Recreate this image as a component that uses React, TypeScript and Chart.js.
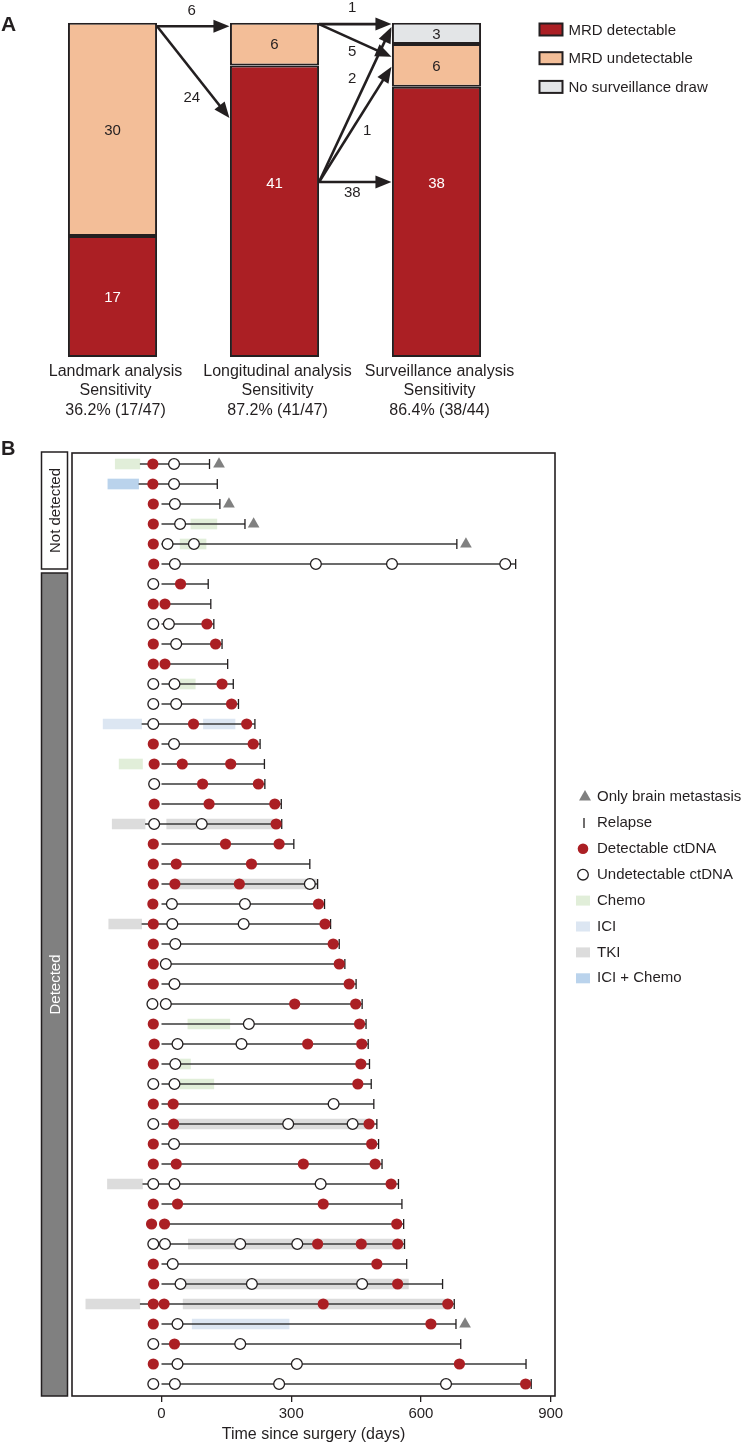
import React, { useEffect, useRef } from "react";
import { Chart, registerables } from "chart.js";

Chart.register(...registerables);

const FONT = '"Liberation Sans", Arial, Helvetica, sans-serif';
const INK = "#231F20";
const RED = "#AB1F24";
const PEACH = "#F3BE98";
const LIGHTGREY = "#E3E5E7";

// ---------------- Panel A data ----------------
const stages = ["Landmark analysis", "Longitudinal analysis", "Surveillance analysis"];
const sensitivityText = ["36.2% (17/47)", "87.2% (41/47)", "86.4% (38/44)"];
const mrdDetectable = [17, 41, 38];
const mrdUndetectable = [30, 6, 6];
const noSurveillanceDraw = [null, null, 3];
const flowCounts = [6, 24, 1, 5, 2, 1, 38];
const flowFromStage = [0, 0, 1, 1, 1, 1, 1];

// ---------------- Panel B data ----------------
const xTickValues = [0, 300, 600, 900];
const groups = [
  { label: "Not detected", first: 1, last: 6 },
  { label: "Detected", first: 7, last: 47 },
];
const relapseDays = [
  111, 129, 135, 193, 683, 819,
  108, 114, 121, 140, 153, 166, 178, 216, 228, 238, 239, 277, 278, 306,
  343, 361, 377, 391, 411, 424, 450, 464, 473, 478,
  481, 485, 491, 498, 502, 510, 548, 556, 560, 562,
  567, 650, 677, 681, 692, 843, 855,
];
const followStart = [
  -50, -53, 0, 0, 0, 0,
  0, 0, 0, 0, 0, 0, 0, -46, 0, 0, 0, 0, -38, 0,
  0, 0, 0, -46, 0, 0, 0, 0, 0, 0,
  0, 0, 0, 0, 0, 0, -44, 0, 0, 0,
  0, 0, -50, 0, 0, 0, 0,
];
const detectable: number[][] = [
  [-20], [-20], [-19], [-19], [-19], [-18],
  [44], [-19, 8], [105], [-19, 125], [-19, 8], [140], [162], [74, 197], [-19, 212], [-17, 48, 160], [95, 224], [-17, 110, 262], [265], [-19, 148, 272],
  [-19, 34, 208], [-19, 31, 180], [-20, 363], [-19, 378], [-19, 397], [-19, 411], [-19, 434], [308, 449], [-19, 458], [-17, 338, 463],
  [-19, 461], [454], [-19, 27], [28, 480], [-19, 486], [-19, 34, 328, 494], [531], [-19, 37, 374], [-23, 7, 544], [361, 462, 546],
  [-19, 498], [-18, 546], [-19, 6, 374, 662], [-19, 623], [30], [-19, 689], [842],
];
const undetectable: number[][] = [
  [29], [29], [31], [43], [14, 75], [31, 357, 533, 795],
  [-19], [], [-19, 17], [34], [], [-19, 30], [-19, 34], [-19], [29], [], [-17], [], [-17, 93], [],
  [], [343], [24, 193], [25, 190], [32], [10], [30], [-21, 10], [202], [37, 185],
  [32], [-19, 30], [398], [-19, 293, 442], [29], [], [-19, 30, 368], [], [], [-19, 8, 182, 314],
  [26], [44, 209, 464], [], [37], [-19, 182], [37, 313], [-19, 31, 272, 658],
];
const brainOnly: [number, number][] = [[1, 133], [3, 156], [4, 213], [5, 704], [44, 702]];
const chemo: [number, number, number][] = [[1, -107, -50], [4, 68, 128], [5, 43, 103], [12, 43, 78], [16, -98, -44], [29, 61, 158], [31, 43, 67], [32, 43, 121]];
const ici: [number, number, number][] = [[14, -135, -46], [14, 97, 170], [44, 71, 295]];
const tki: [number, number, number][] = [[19, -114, -38], [19, 12, 258], [22, 31, 359], [24, -122, -46], [34, 28, 482], [37, -125, -44], [40, 62, 559], [42, 43, 571], [43, -175, -50], [43, 50, 663]];
const iciChemo: [number, number, number][] = [[2, -124, -53]];

const therapyColors = { Chemo: "#E1EED9", ICI: "#DCE6F2", TKI: "#DCDCDC", "ICI + Chemo": "#BAD3EC" };

// ---------------- helpers ----------------
function drawArrow(ctx: CanvasRenderingContext2D, x0: number, y0: number, x1: number, y1: number) {
  const ang = Math.atan2(y1 - y0, x1 - x0);
  const hl = 16, hw = 6.5;
  const bx = x1 - hl * Math.cos(ang);
  const by = y1 - hl * Math.sin(ang);
  ctx.beginPath();
  ctx.moveTo(x0, y0);
  ctx.lineTo(bx + 2 * Math.cos(ang), by + 2 * Math.sin(ang));
  ctx.stroke();
  ctx.beginPath();
  ctx.moveTo(x1, y1);
  ctx.lineTo(bx + hw * Math.sin(ang), by - hw * Math.cos(ang));
  ctx.lineTo(bx - hw * Math.sin(ang), by + hw * Math.cos(ang));
  ctx.closePath();
  ctx.fill();
}

const panelADecor = {
  id: "panelADecor",
  afterDatasetsDraw(chart: any, _args: any, opts: any) {
    const { ctx, scales, chartArea } = chart;
    const y = scales.y;
    ctx.save();
    ctx.textAlign = "center";
    ctx.textBaseline = "middle";
    ctx.font = `15px ${FONT}`;
    // segment labels
    chart.data.datasets.forEach((ds: any, di: number) => {
      const meta = chart.getDatasetMeta(di);
      meta.data.forEach((el: any, i: number) => {
        const v = ds.data[i];
        if (v == null) return;
        const p = el.getProps(["x", "y", "base"], true);
        let ty = (p.y + p.base) / 2;
        if (di === 0 && i > 0) ty = y.getPixelForValue(opts.hubLevel);
        ctx.fillStyle = di === 0 ? "#FFFFFF" : INK;
        ctx.fillText(String(v), p.x, ty + 1);
      });
    });
    // flow arrows
    const bars = chart.getDatasetMeta(0).data;
    ctx.strokeStyle = INK;
    ctx.fillStyle = INK;
    ctx.lineWidth = 2.6;
    flowCounts.forEach((n, k) => {
      const s = flowFromStage[k];
      const a = bars[s].getProps(["x", "width"], true);
      const b = bars[s + 1].getProps(["x", "width"], true);
      const x0 = a.x + a.width / 2;
      const x1 = b.x - b.width / 2 - 0.5;
      const y0 = y.getPixelForValue(opts.fromLevel[k]);
      const y1 = y.getPixelForValue(opts.toLevel[k]);
      drawArrow(ctx, x0, y0, x1, y1);
      const [dx, dy] = opts.labelOffset[k];
      ctx.font = `15px ${FONT}`;
      ctx.fillText(String(n), (x0 + x1) / 2 + dx, (y0 + y1) / 2 + dy);
    });
    // stage labels
    ctx.fillStyle = INK;
    ctx.font = `16px ${FONT}`;
    bars.forEach((el: any, i: number) => {
      const p = el.getProps(["x"], true);
      const cx = p.x + 3;
      ctx.fillText(stages[i], cx, chartArea.bottom + 15);
      ctx.fillText("Sensitivity", cx, chartArea.bottom + 34);
      ctx.fillText(sensitivityText[i], cx, chartArea.bottom + 53.5);
    });
    // panel letter
    ctx.textAlign = "left";
    ctx.font = `bold 21px ${FONT}`;
    ctx.fillText("A", 1, 25);
    // legend
    ctx.font = `15px ${FONT}`;
    chart.data.datasets.forEach((ds: any, di: number) => {
      const cy = 29.5 + di * 28.7;
      const lx = chartArea.right + 21;
      ctx.fillStyle = INK;
      ctx.fillRect(lx, cy - 7, 25, 14);
      ctx.fillStyle = ds.backgroundColor;
      ctx.fillRect(lx + 2, cy - 5, 21, 10);
      ctx.fillStyle = INK;
      ctx.fillText(ds.label, lx + 30, cy + 1);
    });
    ctx.restore();
  },
};

const panelBDecor = {
  id: "panelBDecor",
  afterDraw(chart: any) {
    const { ctx, chartArea: ca, scales } = chart;
    const y = scales.y;
    ctx.save();
    // frame
    ctx.strokeStyle = INK;
    ctx.lineWidth = 1.6;
    ctx.strokeRect(ca.left, ca.top, ca.right - ca.left, ca.bottom - ca.top);
    // group boxes
    groups.forEach((g, gi) => {
      const top = gi === 0 ? ca.top - 1 : y.getPixelForValue(g.first - 0.5) - 1;
      const bottom = gi === groups.length - 1 ? ca.bottom : y.getPixelForValue(g.last + 0.5) - 5;
      const left = ca.left - 30.5;
      const w = 26;
      ctx.fillStyle = gi === 0 ? "#FFFFFF" : "#808080";
      ctx.fillRect(left, top, w, bottom - top);
      ctx.strokeStyle = INK;
      ctx.lineWidth = 1.5;
      ctx.strokeRect(left, top, w, bottom - top);
      ctx.save();
      ctx.translate(left + w / 2, (top + bottom) / 2);
      ctx.rotate(-Math.PI / 2);
      ctx.fillStyle = gi === 0 ? INK : "#FFFFFF";
      ctx.font = `15px ${FONT}`;
      ctx.textAlign = "center";
      ctx.textBaseline = "middle";
      ctx.fillText(g.label, 0, 1);
      ctx.restore();
    });
    // panel letter
    ctx.fillStyle = INK;
    ctx.font = `bold 20px ${FONT}`;
    ctx.textAlign = "left";
    ctx.textBaseline = "middle";
    ctx.fillText("B", 1, 9);
    // legend
    const sx = ca.right + 29;
    const tx = ca.right + 42;
    const y0 = ca.top + 343;
    const step = 25.9;
    const items = ["Only brain metastasis", "Relapse", "Detectable ctDNA", "Undetectable ctDNA", "Chemo", "ICI", "TKI", "ICI + Chemo"];
    ctx.font = `15px ${FONT}`;
    items.forEach((label, i) => {
      const cy = y0 + i * step;
      ctx.fillStyle = INK;
      ctx.fillText(label, tx, cy + 1);
      if (i === 0) {
        ctx.fillStyle = "#808080";
        ctx.beginPath();
        ctx.moveTo(sx + 1, cy - 6);
        ctx.lineTo(sx + 7, cy + 4.5);
        ctx.lineTo(sx - 5, cy + 4.5);
        ctx.closePath();
        ctx.fill();
      } else if (i === 1) {
        ctx.strokeStyle = INK;
        ctx.lineWidth = 1.3;
        ctx.beginPath();
        ctx.moveTo(sx, cy - 4);
        ctx.lineTo(sx, cy + 6);
        ctx.stroke();
      } else if (i === 2) {
        ctx.fillStyle = RED;
        ctx.beginPath();
        ctx.arc(sx - 1, cy + 1, 5.3, 0, Math.PI * 2);
        ctx.fill();
      } else if (i === 3) {
        ctx.strokeStyle = INK;
        ctx.lineWidth = 1.3;
        ctx.fillStyle = "#FFFFFF";
        ctx.beginPath();
        ctx.arc(sx - 1, cy + 1, 5.3, 0, Math.PI * 2);
        ctx.fill();
        ctx.stroke();
      } else {
        const key = label as keyof typeof therapyColors;
        ctx.fillStyle = therapyColors[key];
        ctx.fillRect(sx - 8, cy - 4, 14, 10);
      }
    });
    ctx.restore();
  },
};

function therapyDataset(label: keyof typeof therapyColors, rows: [number, number, number][]) {
  return {
    type: "bar",
    label,
    indexAxis: "y",
    grouped: false,
    data: rows.map(([r, s, e]) => ({ x: [s, e], y: r })),
    backgroundColor: therapyColors[label],
    borderWidth: 0,
    barThickness: 10,
    order: 20,
  };
}

export default function App() {
  const refA = useRef<HTMLCanvasElement>(null);
  const refB = useRef<HTMLCanvasElement>(null);

  useEffect(() => {
    const chartA = new Chart(refA.current as HTMLCanvasElement, {
      type: "bar",
      data: {
        labels: stages,
        datasets: [
          { label: "MRD detectable", data: mrdDetectable, backgroundColor: RED },
          { label: "MRD undetectable", data: mrdUndetectable, backgroundColor: PEACH },
          { label: "No surveillance draw", data: noSurveillanceDraw as any, backgroundColor: LIGHTGREY },
        ].map((d) => ({
          ...d,
          borderColor: INK,
          borderWidth: 2,
          borderSkipped: false,
          categoryPercentage: 1,
          barPercentage: 0.55,
        })),
      },
      options: {
        responsive: false,
        animation: false,
        devicePixelRatio: 1,
        events: [],
        layout: { padding: { left: 31.5, right: 227.5, top: 22.7, bottom: 83 } },
        scales: {
          x: { stacked: true, display: false },
          y: { stacked: true, display: false, min: 0, max: 47 },
        },
        plugins: {
          legend: { display: false },
          tooltip: { enabled: false },
          panelADecor: {
            hubLevel: 24.5,
            fromLevel: [46.5, 46.5, 46.8, 46.8, 24.6, 24.6, 24.6],
            toLevel: [46.5, 33.6, 46.8, 42.2, 46.4, 40.8, 24.6],
            labelOffset: [[-1.5, -15], [-1.5, 26], [-3, -16], [-3, 11.5], [-3, -25.5], [12, 6.5], [-3, 11]],
          },
        } as any,
      },
      plugins: [panelADecor],
    } as any);

    const rowLines = relapseDays.map((end, i) => ({
      type: "line",
      data: [
        { x: followStart[i], y: i + 1 },
        { x: end, y: i + 1 },
      ],
      borderColor: "#3A3A3A",
      borderWidth: 1.3,
      pointRadius: 0,
      fill: false,
      order: 10,
    }));

    const chartB = new Chart(refB.current as HTMLCanvasElement, {
      type: "scatter",
      data: {
        datasets: [
          therapyDataset("Chemo", chemo),
          therapyDataset("ICI", ici),
          therapyDataset("TKI", tki),
          therapyDataset("ICI + Chemo", iciChemo),
          ...rowLines,
          {
            type: "scatter",
            label: "Relapse",
            data: relapseDays.map((d, i) => ({ x: d, y: i + 1 })),
            pointStyle: "line",
            pointRotation: 90,
            pointRadius: 5,
            pointBorderColor: INK,
            pointBorderWidth: 1.3,
            order: 4,
          },
          {
            type: "scatter",
            label: "Undetectable ctDNA",
            data: undetectable.flatMap((days, i) => days.map((d) => ({ x: d, y: i + 1 }))),
            pointStyle: "circle",
            pointRadius: 5.4,
            pointBackgroundColor: "#FFFFFF",
            pointBorderColor: INK,
            pointBorderWidth: 1.3,
            order: 3,
          },
          {
            type: "scatter",
            label: "Detectable ctDNA",
            data: detectable.flatMap((days, i) => days.map((d) => ({ x: d, y: i + 1 }))),
            pointStyle: "circle",
            pointRadius: 5.6,
            pointBackgroundColor: RED,
            pointBorderColor: RED,
            pointBorderWidth: 0,
            order: 2,
          },
          {
            type: "scatter",
            label: "Only brain metastasis",
            data: brainOnly.map(([r, d]) => ({ x: d, y: r })),
            pointStyle: "triangle",
            pointRadius: 6.75,
            pointBackgroundColor: "#808080",
            pointBorderColor: "#808080",
            pointBorderWidth: 0,
            order: 1,
          },
        ],
      },
      options: {
        responsive: false,
        animation: false,
        devicePixelRatio: 1,
        events: [],
        layout: { padding: { left: 72, right: 190, top: 13, bottom: 0 } },
        scales: {
          x: {
            type: "linear",
            min: -207,
            max: 910,
            offset: false,
            beginAtZero: false,
            afterBuildTicks: (s: any) => {
              s.ticks = xTickValues.map((v) => ({ value: v }));
            },
            afterFit: (s: any) => {
              s.height = 48;
            },
            ticks: { font: { size: 15, family: FONT }, color: INK, padding: 3 },
            grid: { display: true, offset: false, drawOnChartArea: false, drawTicks: true, tickLength: 6, color: INK, lineWidth: 1.3 },
            border: { display: false },
            title: {
              display: true,
              text: "Time since surgery (days)",
              font: { size: 16, family: FONT },
              color: INK,
              padding: { top: 0, bottom: 0 },
            },
          },
          y: {
            type: "linear",
            min: 0.45,
            max: 47.6,
            reverse: true,
            offset: false,
            grid: { offset: false },
            display: false,
          },
        },
        plugins: {
          legend: { display: false },
          tooltip: { enabled: false },
        },
      },
      plugins: [panelBDecor],
    } as any);

    return () => {
      chartA.destroy();
      chartB.destroy();
    };
  }, []);

  return (
    <div style={{ position: "absolute", left: 0, top: 0, width: 745, height: 1444, background: "#FFFFFF" }}>
      <canvas
        ref={refA}
        width={745}
        height={440}
        style={{ position: "absolute", left: 0, top: 0, width: 745, height: 440 }}
      />
      <canvas
        ref={refB}
        width={745}
        height={1004}
        style={{ position: "absolute", left: 0, top: 440, width: 745, height: 1004 }}
      />
    </div>
  );
}
